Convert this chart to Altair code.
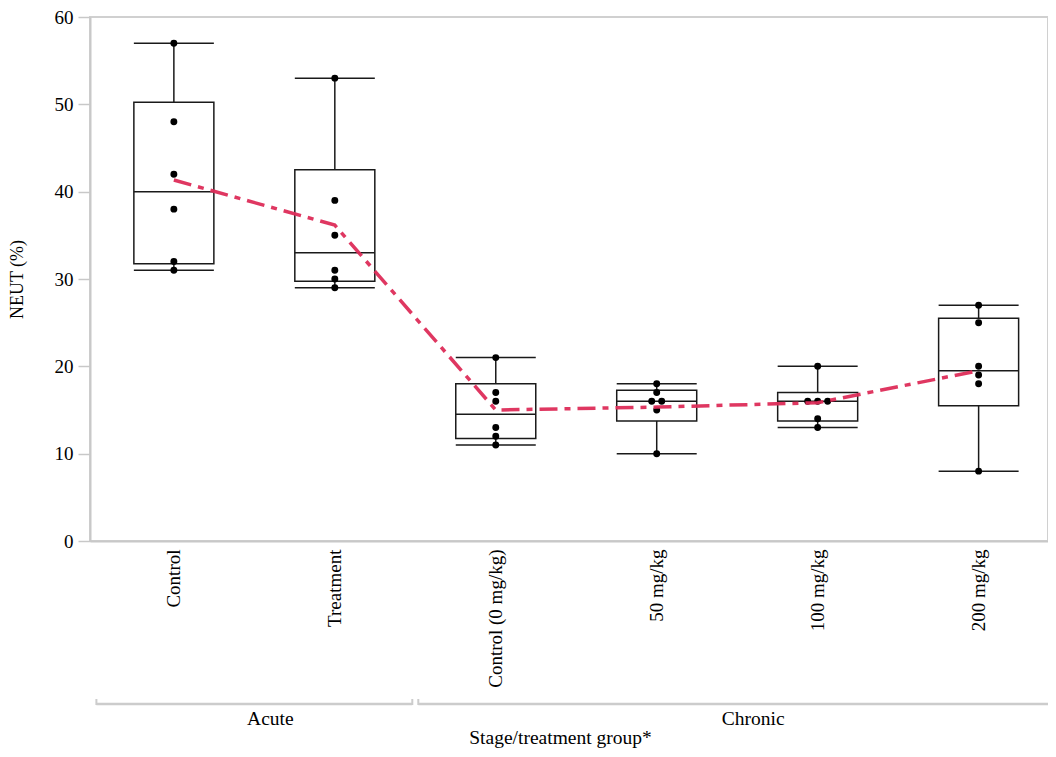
import json
import altair as alt
import numpy as np
import pandas as pd

# ---------------- data ----------------
groups = ["Control", "Treatment", "Control (0 mg/kg)", "50 mg/kg", "100 mg/kg", "200 mg/kg"]
stages = ["Acute", "Acute", "Chronic", "Chronic", "Chronic", "Chronic"]
neut_acute_control = [57, 48, 42, 38, 32, 31]
neut_acute_treatment = [53, 39, 35, 31, 30, 29]
neut_chronic_0 = [21, 17, 16, 13, 12, 11]
neut_chronic_50 = [18, 17, 16, 16, 15, 10]
neut_chronic_100 = [20, 16, 16, 16, 14, 13]
neut_chronic_200 = [27, 25, 20, 19, 18, 8]
y_ticks = [0, 10, 20, 30, 40, 50, 60]

series = [neut_acute_control, neut_acute_treatment, neut_chronic_0,
          neut_chronic_50, neut_chronic_100, neut_chronic_200]

# ---------------- tables built from the arrays ----------------
pt_rows, box_rows = [], []
for i, (g, s, vals) in enumerate(zip(groups, stages, series)):
    for v in vals:
        pt_rows.append({"idx": i, "group": g, "stage": s, "value": v})
    q1, med, q3 = np.percentile(vals, [25, 50, 75], method="weibull")
    box_rows.append({"idx": i, "group": g, "q1": float(q1), "median": float(med),
                     "q3": float(q3), "lo": min(vals), "hi": max(vals)})
points = pd.DataFrame(pt_rows)
boxes = pd.DataFrame(box_rows)

stage_rows = []
for s in dict.fromkeys(stages):
    ids = [i for i, st in enumerate(stages) if st == s]
    stage_rows.append({"stage": s, "start": ids[0] - 0.5, "end": ids[-1] + 0.5,
                       "mid": (ids[0] + ids[-1]) / 2})
stage_df = pd.DataFrame(stage_rows)

# ---------------- layout / style ----------------
W, H = 958, 524
FONT = "Liberation Serif"
BOXW = 80
INK = "#1a1a1a"
label_expr = json.dumps(groups).replace('"', "'") + "[datum.value]"

xscale = alt.Scale(domain=[-0.49, 5.4], nice=False, zero=False)
yscale = alt.Scale(domain=[0, 60], nice=False)

x_axis = alt.Axis(values=list(range(len(groups))), labelExpr=label_expr, labelAngle=-90,
                  ticks=False, grid=False, labelFontSize=19, labelPadding=8,
                  labelOverlap=False, labelFlush=False, labelColor="black",
                  domainColor="#c8c8c8", domainWidth=2,
                  title="Stage/treatment group*", titleFontSize=19.5, titleFontWeight="normal",
                  titleX=470, titleY=202, titleBaseline="alphabetic",
                  titleAlign="center", titleColor="black")
y_axis = alt.Axis(values=y_ticks, grid=False, tickColor="#c8c8c8", tickSize=12, tickWidth=1.5,
                  labelFontSize=19, labelPadding=5, labelColor="black",
                  domainColor="#c8c8c8", domainWidth=2,
                  title="NEUT (%)", titleFontSize=18, titleFontWeight="normal",
                  titleColor="black", titlePadding=28)

box = alt.Chart(boxes).mark_bar(size=BOXW, fill="white", stroke=INK, strokeWidth=1.5).encode(
    x=alt.X("idx:Q", scale=xscale, axis=x_axis),
    y=alt.Y("q1:Q", scale=yscale, axis=y_axis),
    y2="q3:Q",
)
whisk_lo = alt.Chart(boxes).mark_rule(color=INK, strokeWidth=1.5).encode(
    x=alt.X("idx:Q", scale=xscale),
    y=alt.Y("lo:Q", scale=yscale), y2="q1:Q")
whisk_hi = alt.Chart(boxes).mark_rule(color=INK, strokeWidth=1.5).encode(
    x=alt.X("idx:Q", scale=xscale),
    y=alt.Y("q3:Q", scale=yscale), y2="hi:Q")

def hline(field):
    return alt.Chart(boxes).mark_tick(orient="horizontal", size=BOXW, thickness=1.5,
                                      color=INK, opacity=1).encode(
        x=alt.X("idx:Q", scale=xscale),
        y=alt.Y(f"{field}:Q", scale=yscale))

pts = alt.Chart(points).transform_window(
    r="row_number()", groupby=["idx", "value"]
).transform_joinaggregate(
    n="count()", groupby=["idx", "value"]
).transform_calculate(
    xj="datum.idx + (datum.r - (datum.n + 1) / 2) * 0.062"
).mark_circle(size=48, color="black", opacity=1).encode(
    x=alt.X("xj:Q", scale=xscale),
    y=alt.Y("value:Q", scale=yscale),
)

mean_line = alt.Chart(points).mark_line(
    color="#dd2c58", strokeWidth=3.5, strokeDash=[18, 7, 6, 7], opacity=0.95
).encode(
    x=alt.X("idx:Q", scale=xscale),
    y=alt.Y("mean(value):Q", scale=yscale),
)

brackets = alt.Chart(stage_df).mark_rule(
    color="#cccccc", strokeWidth=2.5, xOffset=3, x2Offset=-3
).encode(
    x=alt.X("start:Q", scale=xscale), x2="end:Q", y=alt.value(687)
)
bracket_l = alt.Chart(stage_df).mark_rule(color="#cccccc", strokeWidth=2, xOffset=3).encode(
    x=alt.X("start:Q", scale=xscale), y=alt.value(682), y2=alt.value(688))
bracket_r = alt.Chart(stage_df).mark_rule(color="#cccccc", strokeWidth=2, xOffset=-3).encode(
    x=alt.X("end:Q", scale=xscale), y=alt.value(682), y2=alt.value(688))
stage_text = alt.Chart(stage_df).mark_text(
    fontSize=19.5, font=FONT, color="black", baseline="alphabetic", dx=16
).encode(
    x=alt.X("mid:Q", scale=xscale), y=alt.value(708), text="stage:N"
)

chart = alt.layer(
    box, whisk_lo, whisk_hi, hline("median"), hline("lo"), hline("hi"),
    pts, mean_line, brackets, bracket_l, bracket_r, stage_text
).properties(
    width=W, height=H,
    padding={"left": 82, "top": 9, "right": 0, "bottom": 208},
    autosize=alt.AutoSizeParams(type="none"),
).configure(
    font=FONT,
).configure_view(
    stroke="#d0d0d0", strokeWidth=2
).configure_axis(
    labelFont=FONT, titleFont=FONT
)

chart.save("out.html", embed_options={"renderer": "svg", "actions": False})
